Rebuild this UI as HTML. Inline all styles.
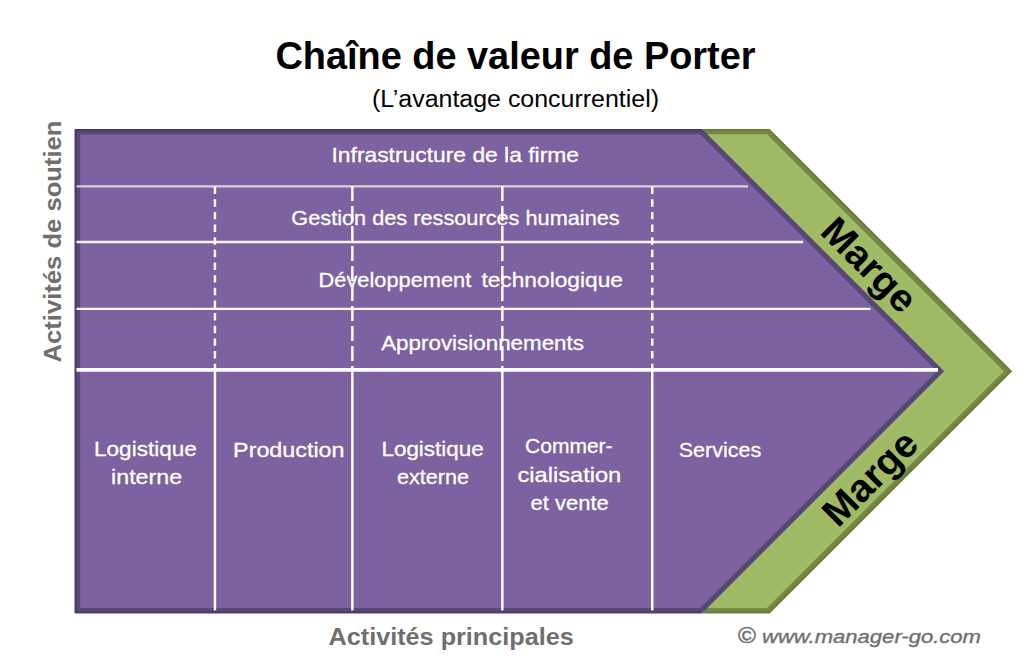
<!DOCTYPE html>
<html>
<head>
<meta charset="utf-8">
<style>
html,body{margin:0;padding:0;background:#fff;width:1036px;height:672px;overflow:hidden;}
svg{position:absolute;left:0;top:0;display:block;}
text{font-family:"Liberation Sans",sans-serif;white-space:pre;}
</style>
</head>
<body>
<svg width="1036" height="672" viewBox="0 0 1036 672">
  <!-- green chevron -->
  <polygon points="701.7,128.9 769.65,128.9 1012.2,371.15 769.65,613.4 701.7,613.4 943.95,371.15" fill="#6a7e38"/>
  <polygon points="695,131.1 768.8,131.1 1008.85,371.15 768.8,611.2 695,611.2 935,371.15" fill="#768848"/>
  <polygon points="690,134.3 767,134.3 1003.85,371.15 767,608 690,608 930,371.15" fill="#a1ba66"/>
  <!-- purple pentagon -->
  <polygon points="75.5,129.9 701.3,129.9 942.5,371.15 701.3,612.4 75.5,612.4" fill="#4f3b6a" stroke="#4f3b6a" stroke-width="2" stroke-linejoin="round"/>
  <polygon points="76.7,131.1 703.9,131.1 943.95,371.15 703.9,611.2 76.7,611.2" fill="#584873"/>
  <polygon points="80.2,134.3 699.95,134.3 936.8,371.15 700.3,608 80.2,608" fill="#7c62a0"/>
  <!-- horizontal lines -->
  <g stroke="#ffffff" fill="none">
    <line x1="76.5" y1="186.3" x2="748" y2="186.3" stroke-width="2.3" stroke-opacity="0.7"/>
    <line x1="76.5" y1="242" x2="803" y2="242" stroke-width="2.3" stroke-opacity="0.93"/>
    <line x1="76.5" y1="308.9" x2="870.5" y2="308.9" stroke-width="2.3" stroke-opacity="0.97"/>
    <line x1="76.5" y1="369.8" x2="938" y2="369.8" stroke-width="3.8"/>
  </g>
  <!-- vertical lines -->
  <g stroke="#ffffff" fill="none" stroke-width="2.45">
    <line x1="214.95" y1="186.6" x2="214.95" y2="369" stroke-dasharray="7.45 5.2"/>
    <line x1="352.35" y1="186" x2="352.35" y2="369" stroke-dasharray="14.9 5.1"/>
    <line x1="502.35" y1="186" x2="502.35" y2="369" stroke-dasharray="14.9 5.1"/>
    <line x1="652.25" y1="186.6" x2="652.25" y2="369" stroke-dasharray="7.45 5.2"/>
    <line x1="214.95" y1="369" x2="214.95" y2="610.4"/>
    <line x1="352.35" y1="369" x2="352.35" y2="610.4"/>
    <line x1="502.35" y1="369" x2="502.35" y2="610.4"/>
    <line x1="652.25" y1="369" x2="652.25" y2="610.4"/>
  </g>
  <text x="275.50" y="69.00" font-size="38.5" font-weight="bold" fill="#000" textLength="480.00" lengthAdjust="spacingAndGlyphs">Chaîne de valeur de Porter</text>
  <text x="372.00" y="107.20" font-size="23.5" fill="#000" textLength="287.00" lengthAdjust="spacingAndGlyphs">(L’avantage concurrentiel)</text>
  <text x="331.50" y="162.10" font-size="21" fill="#ffffff" stroke="#ffffff" stroke-width="0.3" textLength="247.50" lengthAdjust="spacingAndGlyphs">Infrastructure de la firme</text>
  <text x="291.30" y="225.10" font-size="21" fill="#ffffff" stroke="#ffffff" stroke-width="0.3" textLength="328.40" lengthAdjust="spacingAndGlyphs">Gestion des ressources humaines</text>
  <text x="318.50" y="286.60" font-size="21" fill="#ffffff" stroke="#ffffff" stroke-width="0.3" textLength="152.80" lengthAdjust="spacingAndGlyphs">Développement</text>
  <text x="481.40" y="286.60" font-size="21" fill="#ffffff" stroke="#ffffff" stroke-width="0.3" textLength="141.60" lengthAdjust="spacingAndGlyphs">technologique</text>
  <text x="381.20" y="350.20" font-size="21" fill="#ffffff" stroke="#ffffff" stroke-width="0.3" textLength="202.80" lengthAdjust="spacingAndGlyphs">Approvisionnements</text>
  <text x="94.10" y="455.60" font-size="21" fill="#ffffff" stroke="#ffffff" stroke-width="0.3" textLength="102.60" lengthAdjust="spacingAndGlyphs">Logistique</text>
  <text x="111.10" y="483.60" font-size="21" fill="#ffffff" stroke="#ffffff" stroke-width="0.3" textLength="71.00" lengthAdjust="spacingAndGlyphs">interne</text>
  <text x="233.10" y="456.90" font-size="21" fill="#ffffff" stroke="#ffffff" stroke-width="0.3" textLength="111.40" lengthAdjust="spacingAndGlyphs">Production</text>
  <text x="381.50" y="455.60" font-size="21" fill="#ffffff" stroke="#ffffff" stroke-width="0.3" textLength="102.10" lengthAdjust="spacingAndGlyphs">Logistique</text>
  <text x="397.10" y="483.60" font-size="21" fill="#ffffff" stroke="#ffffff" stroke-width="0.3" textLength="71.90" lengthAdjust="spacingAndGlyphs">externe</text>
  <text x="525.10" y="453.00" font-size="21" fill="#ffffff" stroke="#ffffff" stroke-width="0.3" textLength="87.50" lengthAdjust="spacingAndGlyphs">Commer-</text>
  <text x="517.40" y="481.60" font-size="21" fill="#ffffff" stroke="#ffffff" stroke-width="0.3" textLength="103.90" lengthAdjust="spacingAndGlyphs">cialisation</text>
  <text x="530.50" y="510.30" font-size="21" fill="#ffffff" stroke="#ffffff" stroke-width="0.3" textLength="78.30" lengthAdjust="spacingAndGlyphs">et vente</text>
  <text x="678.70" y="457.00" font-size="21" fill="#ffffff" stroke="#ffffff" stroke-width="0.3" textLength="82.60" lengthAdjust="spacingAndGlyphs">Services</text>
  <text x="328.50" y="644.80" font-size="23.5" font-weight="bold" fill="#6f6f6f" textLength="245.30" lengthAdjust="spacingAndGlyphs">Activités principales</text>
  <text x="0.00" y="0.00" font-size="24" font-weight="bold" fill="#6f6f6f" textLength="242.00" lengthAdjust="spacingAndGlyphs" transform="translate(61.2,362.5) rotate(-90)">Activités de soutien</text>
  <text x="737.90" y="642.50" font-size="22.5" fill="#707070" stroke="#707070" stroke-width="0.5" textLength="17.90" lengthAdjust="spacingAndGlyphs">©</text>
  <text x="762.00" y="642.80" font-size="19" font-style="italic" fill="#707070" stroke="#707070" stroke-width="0.35" textLength="219.00" lengthAdjust="spacingAndGlyphs">www.manager-go.com</text>
  <text x="0.00" y="13.80" font-size="38.5" font-weight="bold" fill="#000" textLength="116.50" lengthAdjust="spacingAndGlyphs" transform="translate(869.8,264.4) rotate(45)" text-anchor="middle">Marge</text>
  <text x="0.00" y="13.80" font-size="38.5" font-weight="bold" fill="#000" textLength="116.50" lengthAdjust="spacingAndGlyphs" transform="translate(869.5,477.6) rotate(-45)" text-anchor="middle">Marge</text>
</svg>
</body>
</html>
